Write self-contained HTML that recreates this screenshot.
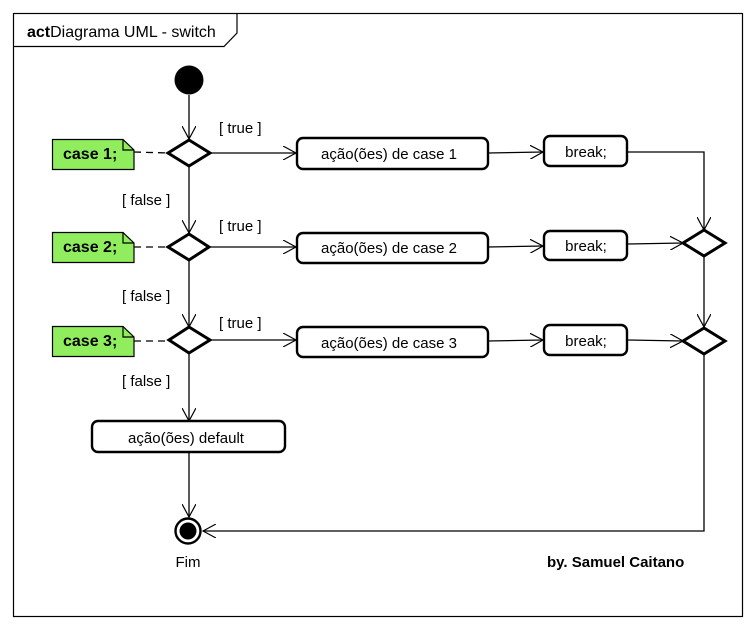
<!DOCTYPE html>
<html><head><meta charset="utf-8"><style>
html,body{margin:0;padding:0;background:#fff;}
svg{display:block;}
text{font-family:"Liberation Sans",sans-serif;font-size:15px;fill:#000;}
</style></head><body>
<svg width="756" height="629" viewBox="0 0 756 629" xmlns="http://www.w3.org/2000/svg">
<defs>
<marker id="a" viewBox="0 0 14 14" refX="13" refY="7" markerWidth="14" markerHeight="14" markerUnits="userSpaceOnUse" orient="auto">
<path d="M0,0 L13,7 L0,14" fill="none" stroke="#000" stroke-width="1.2"/>
</marker>
</defs>
<rect x="13.5" y="13.5" width="729" height="603" fill="#fff" stroke="#000" stroke-width="1.2"/>
<path d="M13.5,46.5 H224 L237,33 V13.5" fill="none" stroke="#000" stroke-width="1.2"/>
<text x="27" y="37" style="font-size:16px"><tspan font-weight="bold">act</tspan>Diagrama UML - switch</text>

<circle cx="189" cy="80" r="14.5" fill="#000"/>
<g stroke="#000" stroke-width="1.3" fill="none">
<line x1="189" y1="95" x2="189" y2="139" marker-end="url(#a)"/>
<line x1="189" y1="166" x2="189" y2="233" marker-end="url(#a)"/>
<line x1="189" y1="260" x2="189" y2="327" marker-end="url(#a)"/>
<line x1="189" y1="353" x2="189" y2="421" marker-end="url(#a)"/>
<line x1="189" y1="452" x2="189" y2="517" marker-end="url(#a)"/>
<line x1="210" y1="153" x2="296" y2="153" marker-end="url(#a)"/>
<line x1="209" y1="247" x2="296" y2="247" marker-end="url(#a)"/>
<line x1="210" y1="340" x2="296" y2="340" marker-end="url(#a)"/>
<line x1="488" y1="153" x2="543" y2="152" marker-end="url(#a)"/>
<line x1="488" y1="247" x2="543" y2="246" marker-end="url(#a)"/>
<line x1="488" y1="341" x2="543" y2="340" marker-end="url(#a)"/>
<path d="M627,152 H704 V230" marker-end="url(#a)"/>
<line x1="627" y1="244" x2="683" y2="243" marker-end="url(#a)"/>
<line x1="627" y1="340" x2="683" y2="341" marker-end="url(#a)"/>
<line x1="704" y1="256" x2="704" y2="327" marker-end="url(#a)"/>
<path d="M704,354 V531 H203" marker-end="url(#a)"/>
<g stroke-dasharray="7,5"><line x1="134" y1="152" x2="168" y2="153"/><line x1="134" y1="247" x2="168" y2="247"/><line x1="134" y1="341" x2="168" y2="341"/></g>
</g>
<g stroke="#000" stroke-width="3" fill="#fff">
<polygon points="168,153 189,140 210,153 189,166"/>
<polygon points="168,247 189,234 209,247 189,260"/>
<polygon points="169,340 189,327 210,340 189,353"/>
<polygon points="683,243 704,230 725,243 704,256"/>
<polygon points="683,341 704,328 725,341 704,354"/>
</g>
<g stroke="#000" stroke-width="2.4" fill="#fff">
<rect x="297" y="138" width="191" height="31" rx="6"/>
<rect x="297" y="233" width="191" height="30" rx="6"/>
<rect x="297" y="327" width="191" height="30" rx="6"/>
<rect x="544" y="136" width="83" height="30" rx="6"/>
<rect x="544" y="231" width="83" height="29" rx="6"/>
<rect x="544" y="325" width="83" height="30" rx="6"/>
<rect x="92" y="421" width="193" height="31" rx="6"/>
</g>
<g stroke="#000" stroke-width="1.2" fill="#90ee5e">
<path d="M52.5,139.5 H123 L134,150 V169.5 H52.5 Z"/>
<path d="M52.5,232.5 H123 L134,243 V262.5 H52.5 Z"/>
<path d="M52.5,326.5 H123 L134,337 V356.5 H52.5 Z"/>
</g>
<g fill="none" stroke="#000" stroke-width="1.2">
<path d="M123,139.5 V150 H134"/><path d="M123,232.5 V243 H134"/><path d="M123,326.5 V337 H134"/>
</g>
<g style="font-size:16px"><text x="63" y="159" font-weight="bold" style="font-size:16px">case 1;</text><text x="63" y="252" font-weight="bold" style="font-size:16px">case 2;</text><text x="63" y="346" font-weight="bold" style="font-size:16px">case 3;</text></g>
<circle cx="188" cy="531" r="12.5" fill="#fff" stroke="#000" stroke-width="2.4"/>
<circle cx="188" cy="531" r="8.5" fill="#000"/>
<g text-anchor="middle">
<text x="389" y="159">ação(ões) de case 1</text>
<text x="389" y="253">ação(ões) de case 2</text>
<text x="389" y="348">ação(ões) de case 3</text>
<text x="586" y="157">break;</text>
<text x="586" y="251">break;</text>
<text x="586" y="346">break;</text>
<text x="186" y="443">ação(ões) default</text>
<text x="188" y="567">Fim</text>
</g>
<text x="219" y="133">[ true ]</text>
<text x="219" y="231">[ true ]</text>
<text x="219" y="328">[ true ]</text>
<text x="122" y="205">[ false ]</text>
<text x="122" y="301">[ false ]</text>
<text x="122" y="386">[ false ]</text>
<text x="547" y="567" font-weight="bold">by. Samuel Caitano</text>
</svg>
</body></html>
